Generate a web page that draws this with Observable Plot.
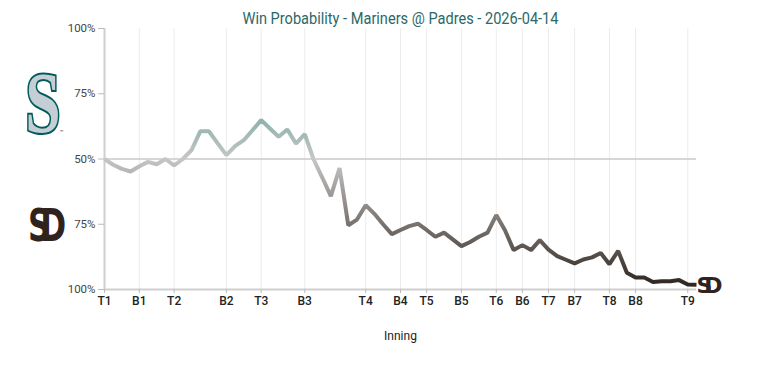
<!DOCTYPE html>
<html><head><meta charset="utf-8">
<script src="https://cdn.jsdelivr.net/npm/d3@7"></script>
<script src="https://cdn.jsdelivr.net/npm/@observablehq/plot@0.6"></script>
<style>
html,body{margin:0;padding:0;background:#fff;}
#chart{position:relative;width:768px;height:378px;}
</style></head><body><div id="chart"></div>
<script>
const title = "Win Probability - Mariners @ Padres - 2026-04-14";
const xLabel = "Inning";
const eventIndex = [0,1,2,3,4,5,6,7,8,9,10,11,12,13,14,15,16,17,18,19,20,21,22,23,24,25,26,27,28,29,30,31,32,33,34,35,36,37,38,39,40,41,42,43,44,45,46,47,48,49,50,51,52,53,54,55,56,57,58,59,60,61,62,63,64,65,66,67,68];
const marinersWinProb = [0.50,0.478,0.462,0.452,0.472,0.489,0.480,0.500,0.476,0.500,0.534,0.606,0.606,0.560,0.515,0.549,0.572,0.610,0.649,0.617,0.585,0.613,0.559,0.595,0.500,0.430,0.358,0.465,0.246,0.268,0.323,0.290,0.250,0.212,0.228,0.243,0.252,0.228,0.202,0.218,0.192,0.166,0.182,0.202,0.218,0.285,0.227,0.151,0.170,0.151,0.189,0.153,0.128,0.114,0.100,0.115,0.123,0.140,0.097,0.148,0.064,0.046,0.046,0.029,0.032,0.032,0.036,0.019,0.018];
const xTickIdx = [0,4,8,14,18,23,30,34,37,41,45,48,51,54,58,61,67];
const xTickLabels = ["T1","B1","T2","B2","T3","B3","T4","B4","T5","B5","T6","B6","T7","B7","T8","B8","T9"];
const yTickValues = [0,0.25,0.5,0.75,1];
const yTickLabels = ["100%","75%","50%","75%","100%"];
const gradStops = [
  {offset: 0, color: "#005c5c"},
  {offset: 0.35, color: "#8fb3ac"},
  {offset: 0.5, color: "#c6c6c6"},
  {offset: 0.75, color: "#79736f"},
  {offset: 1, color: "#2a211b"}
];

const data = eventIndex.map((i, k) => ({i, p: marinersWinProb[k]}));
const last = [data[data.length - 1]];
const tickLabelOf = new Map(xTickIdx.map((d, k) => [d, xTickLabels[k]]));
const yLabelOf = new Map(yTickValues.map((d, k) => [d, yTickLabels[k]]));

const chart = Plot.plot({
  width: 768,
  height: 378,
  marginTop: 28,
  marginBottom: 89,
  marginLeft: 104,
  marginRight: 72,
  style: {fontFamily: "Roboto, sans-serif", fontSize: "11px", color: "#333", background: "#fff"},
  x: {domain: [0, 68]},
  y: {domain: [0, 1]},
  marks: [
    Plot.gridX(xTickIdx, {stroke: "#ececec", strokeOpacity: 1, strokeWidth: 1}),
    Plot.ruleY([0.5], {stroke: "#c8c8c8", strokeWidth: 1.5}),
    Plot.ruleX([0], {stroke: "#cfcfcf", strokeWidth: 2}),
    Plot.ruleY([0], {stroke: "#cfcfcf", strokeWidth: 2}),
    Plot.axisY({ticks: yTickValues, tickFormat: d => yLabelOf.get(d), tickSize: 6, tickPadding: 3, stroke: "#bbb", label: null, fill: "#444", fontSize: 11.5}),
    Plot.axisX({ticks: xTickIdx, tickFormat: d => tickLabelOf.get(d), tickSize: 4, tickPadding: 3, stroke: "#bbb", label: null, fill: "#222", fontSize: 12, fontWeight: 500}),
    Plot.line(data, {x: "i", y: "p", stroke: "url(#wpgrad)", strokeWidth: 4, strokeLinejoin: "miter", strokeLinecap: "butt"}),
    Plot.text([title], {frameAnchor: "top", dy: -10, lineAnchor: "middle", fontSize: 17, fill: "#2b6969"}),
    Plot.text([xLabel], {frameAnchor: "bottom", dy: 47, lineAnchor: "middle", fontSize: 12, fill: "#222"}),
    // end-of-line Padres mark
    Plot.text(last, {x: "i", y: "p", text: () => "SD", dx: 9, dy: 1, fontSize: 22, fontWeight: "bold", fontFamily: "DejaVu Sans", fill: "#2f241d", stroke: "white", strokeWidth: 1, className: "endsd"})
  ]
});

// gradient by win probability
const ys = chart.scale("y");
const svgNS = "http://www.w3.org/2000/svg";
const defs = document.createElementNS(svgNS, "defs");
const lg = document.createElementNS(svgNS, "linearGradient");
lg.setAttribute("id", "wpgrad");
lg.setAttribute("gradientUnits", "userSpaceOnUse");
lg.setAttribute("x1", 0); lg.setAttribute("x2", 0);
lg.setAttribute("y1", ys.apply(1)); lg.setAttribute("y2", ys.apply(0));
for (const s of gradStops) {
  const st = document.createElementNS(svgNS, "stop");
  st.setAttribute("offset", s.offset);
  st.setAttribute("stop-color", s.color);
  lg.appendChild(st);
}
defs.appendChild(lg);
chart.insertBefore(defs, chart.firstChild);

const svg = d3.select(chart);
// title width like reference
svg.selectAll("text").filter(function() { return this.textContent === title; })
  .attr("textLength", 316).attr("lengthAdjust", "spacingAndGlyphs");
svg.selectAll(".endsd text").attr("letter-spacing", -8).attr("paint-order", "stroke");

// team logos (as text)
const sea = svg.append("g").attr("transform", "translate(43,101)");
sea.append("text").text("S").attr("text-anchor", "middle").attr("dy", "0.36em")
  .attr("font-family", "Liberation Serif").attr("font-weight", "bold").attr("font-size", 86)
  .attr("transform", "scale(0.74,1)")
  .attr("fill", "#c4ced4").attr("stroke", "#005c5c").attr("stroke-width", 4).attr("paint-order", "stroke");
sea.append("text").text("™").attr("x", 19).attr("y", 33).attr("font-size", 6).attr("fill", "#333");
const sd = svg.append("g").attr("transform", "translate(42,225) scale(0.78,1.1)");
sd.append("text").text("SD").attr("text-anchor", "middle").attr("dy", "0.36em")
  .attr("letter-spacing", -13)
  .attr("font-family", "DejaVu Sans").attr("font-weight", "bold").attr("font-size", 40)
  .attr("fill", "#2f241d").attr("stroke", "white").attr("stroke-width", 2).attr("paint-order", "stroke");

document.getElementById("chart").appendChild(chart);
</script></body></html>
